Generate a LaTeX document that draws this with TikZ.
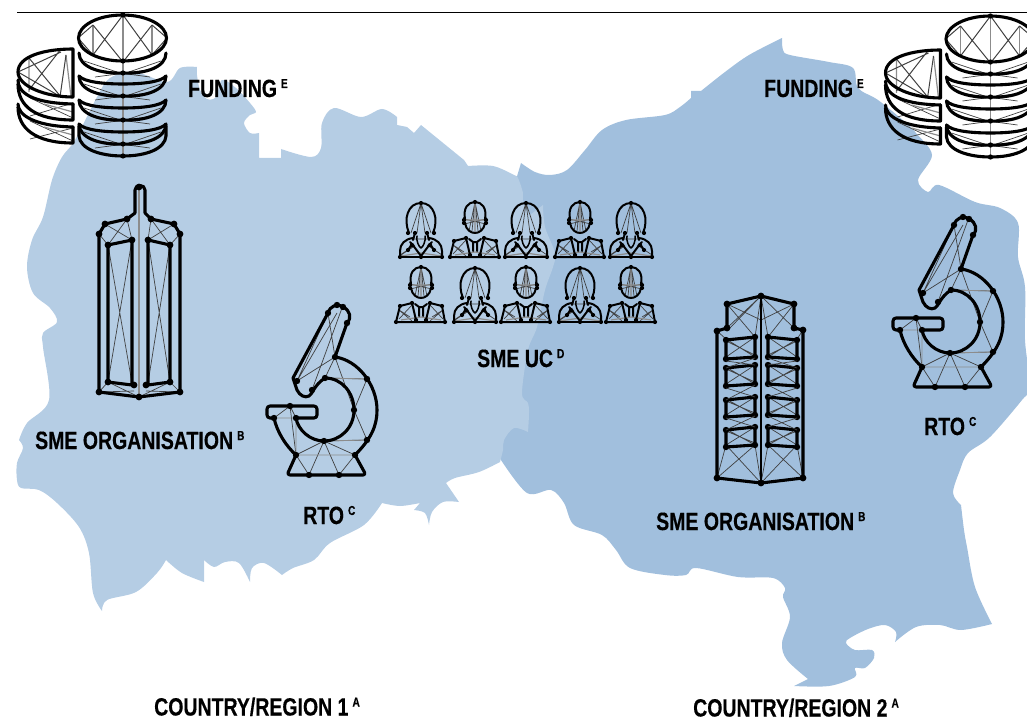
\documentclass[tikz,border=0pt]{standalone}
\usepackage{fontspec}
\setmainfont{Liberation Sans}[FakeStretch=0.78,FakeBold=0.35]
\definecolor{mapL}{RGB}{181,205,228}
\definecolor{mapD}{RGB}{161,191,221}
\tikzset{
  mapline/.style={smooth,tension=0.55},
  th/.style={line width=3.1pt,line join=round,line cap=round,black},
  md/.style={line width=2pt,line join=round,line cap=round,black},
  thn/.style={line width=0.7pt,black!75},
  gry/.style={line width=1.2pt,black!45},
  lab/.style={anchor=base west,inner sep=0pt,font=\fontsize{25}{25}\selectfont\bfseries}
}
\newcommand{\dts}[2][3.2]{\foreach \p in {#2} \fill[black] \p circle (#1);}
\newcommand{\lbl}[2]{#1\hspace{4pt}\raisebox{9pt}{\fontsize{13}{13}\selectfont #2}}
% ---------- coins
\newcommand{\bigcoins}{%
  \draw[gry] (123,15)--(123,156) (93,25)--(93,55) (152,25)--(152,55);
  \draw[thn,line width=1pt] (93,25)--(123,62) (123,15)--(152,55) (152,25)--(123,62) (123,15)--(93,55)
     (78,38)--(93,25) (78,38)--(93,55) (167,38)--(152,25) (167,38)--(152,55);
  \foreach \t in {53,76,100,124}{
    \draw[thn] (84,\t+8)--(123,\t+21) (161,\t+8)--(123,\t+21) (90,\t+2+14)--(150,\t+24) (155,\t+2+14)--(95,\t+24);
    \draw[th] (79,\t) .. controls (79,\t+14) and (100,\t+21) .. (123,\t+20) .. controls (146,\t+21) and (166,\t+14) .. (166,\t);
    \fill (123,\t+20) circle (2.6);
  }
  \foreach \t in {76,100,124}{
    \draw[th] (79,\t) .. controls (84,\t+6) and (104,\t+8) .. (123,\t+8) .. controls (142,\t+8) and (161,\t+6) .. (166,\t);
  }
  \draw[th] (79,126)--(79,136) .. controls (80,149) and (100,156) .. (123,156) .. controls (146,156) and (165,149) .. (166,136)--(166,126);
  \draw[th] (122.5,38) ellipse (44 and 23);
  \fill (123,156) circle (2.6); \fill (123,15) circle (2.6); \fill (123,61) circle (2.6);
}
\newcommand{\smallcoins}{%
  \draw[gry] (29,58)--(29,92) (66,55)--(71,97);
  \draw[thn,line width=1pt] (61,49)--(29,90) (29,58)--(61,97) (18,72)--(61,52) (66,55)--(60,97) (18,72)--(61,97);
  \draw[thn] (30,98)--(73,118) (73,103)--(30,116) (30,121)--(73,141) (73,128)--(30,139);
  \draw[gry] (44,104)--(73,112) (44,127)--(73,135);
  \draw[th] (73,49) .. controls (45,49) and (18,56) .. (18,72) .. controls (18,86) and (45,97) .. (73,97) -- cycle;
  \draw[th] (18,80) .. controls (18,92) and (30,103) .. (73,104);
  \draw[th] (18,84) .. controls (18,106) and (35,120) .. (73,120) -- (73,104);
  \draw[th] (18,104) .. controls (18,114) and (32,126) .. (73,127);
  \draw[th] (18,107) .. controls (18,128) and (35,143) .. (73,143) -- (73,127);
}
% ---------- microscope
\newcommand{\microscope}{%
  \draw[thn] (297,381)--(337,313) (297,381)--(328,313) (312,390)--(342,308) (297,381)--(335,357) (328,313)--(335,357) (335,357)--(354,410)
    (325,378)--(367,379) (367,379)--(354,410) (354,410)--(367,440) (335,357)--(325,378) (324,441)--(367,440) (324,441)--(296,455) (324,441)--(355,455)
    (296,455)--(309,475) (324,441)--(309,475) (324,441)--(339,475) (355,455)--(339,475) (274,418)--(290,406) (290,406)--(296,418) (290,406)--(296,455);
  \draw[gry,line width=0.9pt] (274,418)--(296,418) (296,418)--(296,455) (296,455)--(355,455) (325,378)--(367,379) (324,441)--(367,440);
  \draw[th] (297,390) -- (293,378) -- (328,313) .. controls (330,306) and (337,303) .. (343,307) .. controls (350,310) and (352,318) .. (347,323) -- (335,357)
     .. controls (358,360) and (377,385) .. (377,410) .. controls (377,425) and (372,438) .. (355,455)
     (297,390) .. controls (300,396) and (305,398) .. (309,396) .. controls (312,395) and (314,385) .. (325,378)
     .. controls (342,378) and (354,393) .. (354,410) .. controls (354,428) and (340,441) .. (324,441) .. controls (310,441) and (298,430) .. (296,418);
  \draw[th,rounded corners=3pt] (296,418) -- (317,418) -- (317,406) -- (267,406) -- (267,418) -- (274,418);
  \draw[th] (274,418) .. controls (277,432) and (286,446) .. (296,455);
  \draw[th,rounded corners=3pt] (296,455) -- (287,475) -- (366,475) -- (355,455);
  \dts{(335,357),(367,379),(354,410),(325,378),(367,440),(324,441),(296,455),(355,455),(309,475),(339,475),(297,381),(312,390),(328,313),(343,307),(347,323),(290,406),(274,418),(296,418),(337,305)}
}
% ---------- towers
\newcommand{\towerL}{%
  \draw[gry,black!45] (139,190)--(139,397);
  \draw[thn] (108,245)--(132,383) (132,240)--(108,382) (148,240)--(170,382) (170,245)--(148,383);
  \draw[thn] (105,224)--(132,240) (127,219)--(108,245) (127,219)--(132,240) (99,234)--(108,245)
     (174,224)--(148,240) (151,219)--(170,245) (151,219)--(148,240) (180,234)--(170,245)
     (99,392)--(108,382) (99,392)--(134,391) (108,382)--(139,397) (180,392)--(170,382) (180,392)--(146,391) (170,382)--(139,397);
  \draw[th] (135,213)--(135,190) .. controls (135,184) and (145,184) .. (145,190)--(145,213)
     (135,213)--(127,219)--(105,224)--(99,234)--(99,392)--(139,397)--(180,392)--(180,234)--(174,224)--(151,219)--(145,213);
  \draw[th] (108,382)--(108,245)--(132,240)--(132,385)--(108,382)
     (170,382)--(170,245)--(148,240)--(148,385)--(170,382);
  \dts[3.4]{(105,224),(99,234),(127,219),(151,219),(174,224),(180,234),(108,245),(132,240),(148,240),(170,245),(108,382),(134,385),(146,385),(170,382),(99,392),(139,397),(180,392),(139,187)}
}
\newcommand{\towerR}{%
  \draw[thn] (727,304)--(755,337) (761,296)--(727,331) (761,296)--(755,337) (727,328)--(761,296) (794,304)--(768,337) (761,296)--(797,331) (761,296)--(768,337)
    (717,331)--(726,339) (803,330)--(797,339)
    (761,296)--(727,304)--(761,320) (794,304)--(761,320);
  \draw[thn] (717,478)--(726,445) (803,478)--(797,445) (717,478)--(755,445) (726,445)--(761,483) (803,478)--(768,445) (797,445)--(761,483) (755,445)--(761,483) (768,445)--(761,483);
  \foreach \a/\b in {337/357,365/384,397/415,427/445}{
    \draw[thn] (726,\a+2)--(755,\b) (755,\a)--(726,\b) (768,\a)--(797,\b) (797,\a+2)--(768,\b) (726,\a+4)--(755,\b-2) (768,\b-2)--(797,\a+4);
    \draw[th] (726,\a+3)--(755,\a)--(755,\b) (726,\b+2)--(755,\b) (726,\a+3)--(726,\b+2)
              (797,\a+3)--(768,\a)--(768,\b) (797,\b+2)--(768,\b) (797,\a+3)--(797,\b+2);
    \dts{(726,\a+3),(755,\a),(755,\b),(726,\b+2),(797,\a+3),(768,\a),(768,\b),(797,\b+2)}
  }
  \draw[thn] (726,361)--(755,365) (755,358)--(726,368) (768,358)--(797,368) (797,361)--(768,365)
     (726,388)--(755,397) (755,385)--(726,400) (768,385)--(797,400) (797,388)--(768,397)
     (726,418)--(755,427) (755,416)--(726,430) (768,416)--(797,430) (797,418)--(768,427);
  \draw[md,line width=2.4pt] (761,296)--(761,483);
  \draw[th] (727,328)--(727,304)--(761,296)--(794,304)--(794,328) (727,328)--(717,331)--(717,478)--(761,483)--(803,478)--(803,330)--(794,328);
  \dts[3.4]{(761,296),(727,304),(794,304),(727,328),(794,328),(717,331),(803,330),(717,478),(761,483),(803,478)}
}
% ---------- people
\newcommand{\persA}[2]{\begin{scope}[shift={(#1,#2)}]
  \draw[thn] (0,0)--(-10,30) (0,0)--(-4,30) (0,0)--(4,30) (0,0)--(10,30) (-21,52)--(-6,42) (21,52)--(6,42) (-9,36)--(9,36) (-8,44)--(-20,52);
  \draw[gry] (-20,53)--(0,50)--(20,53);
  \draw[md] (-12,30) .. controls (-18,16) and (-13,0) .. (0,0) .. controls (13,0) and (18,16) .. (12,30);
  \draw[md,line width=1.5pt] (-4,33) .. controls (-5,38) and (-2,44) .. (0,45) .. controls (2,44) and (5,38) .. (4,33);
  \draw[md] (-21,54)--(-21,48) .. controls (-21,41) and (-16,36) .. (-8,35)  (21,54)--(21,48) .. controls (21,41) and (16,36) .. (8,35);
  \draw[md] (-11,39)--(-9,41)--(0,53)--(9,41)--(11,39) (-9,41)--(-13,47) (9,41)--(13,47) (-6,30)--(-8,37) (6,30)--(8,37);
  \draw[md] (-21,54)--(21,54);
  \dts[2.1]{(0,0),(-13,30),(13,30),(-6,30),(6,30),(-21,54),(21,54),(0,54),(-9,42),(9,42),(-13,47),(13,47)}
\end{scope}}
\newcommand{\persB}[2]{\begin{scope}[shift={(#1,#2)}]
  \draw[thn] (0,0)--(-6,29) (0,0)--(-3,29) (0,0)--(3,29) (0,0)--(6,29) (-11,17)--(11,22) (11,17)--(-11,22) (-22,43)--(-9,54) (22,43)--(9,54) (-9,38)--(-22,52) (9,38)--(22,52) (-22,43)--(-11,50) (22,43)--(11,50);
  \draw[gry] (0,0)--(0,31) (-11,18)--(11,18) (-20,53)--(0,50)--(20,53);
  \draw[md] (-10,17) .. controls (-12,6) and (-7,0) .. (0,0) .. controls (7,0) and (12,6) .. (10,17) (-10,21) .. controls (-9,28) and (-4,31) .. (0,31) .. controls (4,31) and (9,28) .. (10,21);
  \draw[md] (-11,16)--(-11,22) (11,16)--(11,22);
  \draw[md] (-25,55)--(24,55) (-25,55)--(-21,39)--(-9,36)--(-5,53) (24,55)--(21,39)--(9,36)--(5,53)  (-6,37)--(-2,40)--(-2,49) (6,37)--(2,40)--(2,49) (-2,40)--(2,40);
  \dts[2.1]{(0,0),(-11,18),(11,18),(-11,21),(11,21),(-21,39),(21,39),(-9,36),(9,36),(-25,55),(24,55),(-5,53),(5,53)}
\end{scope}}
\begin{document}
\begin{tikzpicture}[x=1pt,y=-1pt]
\useasboundingbox (0,0) rectangle (1027,722);
\clip (0,0) rectangle (1027,722);
% dark region (Country 2)
\fill[mapD] plot[mapline] coordinates {(521,163) (535,172) (550,175) (567,170) (585,150) (602,130) (626,120) (665,115) (680,107) (691,98)}
  -- (691,91) -- (701,91) -- plot[mapline] coordinates {(701,91) (725,72) (749,55) (782,38)}
  -- plot[mapline] coordinates {(782,38) (783,50) (790,55) (829,62) (853,68) (858,88) (878,100) (905,122) (916,133) (932,155) (918,180) (928,192) (939,185) (975,202) (1000,208) (1018,223) (1018,257) (1025,287) (1025,340) (1030,387) (1022,400) (990,437) (968,453) (960,470) (953,493) (961,505)}
  -- plot[mapline] coordinates {(961,505) (964,530) (967,547) (975,587) (992,624)}
  -- plot[mapline] coordinates {(992,624) (961,630) (940,625) (916,627) (895,642)}
  -- plot[mapline] coordinates {(895,642) (896,632) (885,625) (868,629) (850,638) (846,643) (855,650) (872,650) (874,658) (865,668) (855,668) (855,677) (829,686) (794,686)}
  -- plot[mapline] coordinates {(794,686) (808,679)}
  -- plot[mapline] coordinates {(808,679) (787,660) (782,643) (790,617) (783,597) (785,588) (773,578) (738,577) (696,568) (686,575) (665,575) (630,568) (616,550) (602,535) (574,525) (564,503) (551,490) (527,493) (501,460)}
  -- (480,300) -- (521,163) -- cycle;
% light region (Country 1)
\fill[mapL] plot[mapline] coordinates {(102,611) (93,593) (89,553) (79,527) (57,503) (39,490) (21,488) (17,480) (17,463) (23,448) (19,440)}
  -- plot[mapline] coordinates {(19,440) (27,423) (49,400) (43,347) (43,333) (57,322) (50,308) (33,293) (27,267) (32,240) (43,217) (52,180) (62,157) (75,140) (97,97) (110,78) (135,72) (167,82) (180,68) (197,67)}
  -- plot[mapline] coordinates {(197,67) (197,75) (200,90) (207,99) (216,97) (222,80) (236,88) (250,103) (256,112) (250,115) (244,123) (250,133) (259,133)}
  -- (259,158) -- (281,158) -- (281,149) -- plot[mapline] coordinates {(281,149) (311,157) (321,148) (322,123) (334,108) (361,117) (382,109) (397,117)}
  -- (397,125) -- (407,127) -- (414,133) -- (421,125) -- (464,160) -- (468,166)
  -- plot[mapline] coordinates {(468,166) (493,166) (514,175) (518,178) (523,193) (523,203) (530,215)}
  -- (543,205) -- plot[mapline] coordinates {(543,205) (545,227) (555,253) (553,267) (545,290) (537,327) (528,350) (522,393) (528,403) (529,413) (528,432)}
  -- plot[mapline] coordinates {(528,432) (514,428) (504,440) (503,450) (500,462)}
  -- plot[mapline] coordinates {(500,462) (479,472) (455,478) (446,483)}
  -- (459,502) -- plot[mapline] coordinates {(459,502) (443,502) (432,512) (429,525)}
  -- plot[mapline] coordinates {(429,525) (425,513) (414,510)}
  -- (420,503) -- plot[mapline] coordinates {(420,503) (400,506) (382,503)}
  -- plot[mapline] coordinates {(382,503) (364,525) (330,543) (314,560) (293,568) (282,575)}
  -- plot[mapline] coordinates {(282,575) (264,563) (252,568) (250,582)}
  -- plot[mapline] coordinates {(250,582) (239,563) (225,562) (214,567) (204,560)}
  -- (204,582) -- plot[mapline] coordinates {(204,582) (182,573) (166,560)}
  -- plot[mapline] coordinates {(166,560) (157,573) (136,592) (107,600) (102,611)} -- cycle;
% rule
\draw[line width=1pt,black] (17,12.5) -- (1027,12.5);
% icons
\smallcoins \bigcoins
\begin{scope}[shift={(867.5,1)}] \smallcoins \bigcoins \end{scope}
\towerL \towerR
\microscope
\begin{scope}[shift={(626,-88)}] \microscope \end{scope}
\persA{421}{203}\persB{475}{202}\persA{526}{203}\persB{580}{202}\persA{631}{203}
\persB{421}{267}\persA{475}{268}\persB{526}{267}\persA{580}{268}\persB{631}{267}
% labels
\node[lab] (fundL) at (188,97) {\lbl{FUNDING}{E}};
\node[lab] (fundR) at (764,97) {\lbl{FUNDING}{E}};
\node[lab] (smeL) at (35,449) {\lbl{SME ORGANISATION}{B}};
\node[lab] (smeR) at (656,530) {\lbl{SME ORGANISATION}{B}};
\node[lab] (rtoL) at (303,524) {\lbl{RTO}{C}};
\node[lab] (rtoR) at (924,435) {\lbl{RTO}{C}};
\node[lab] (uc) at (477,367) {\lbl{SME UC}{D}};
\node[lab] (c1) at (154,715.5) {\lbl{COUNTRY/REGION 1}{A}};
\node[lab] (c2) at (693,716.5) {\lbl{COUNTRY/REGION 2}{A}};
\end{tikzpicture}
\end{document}
